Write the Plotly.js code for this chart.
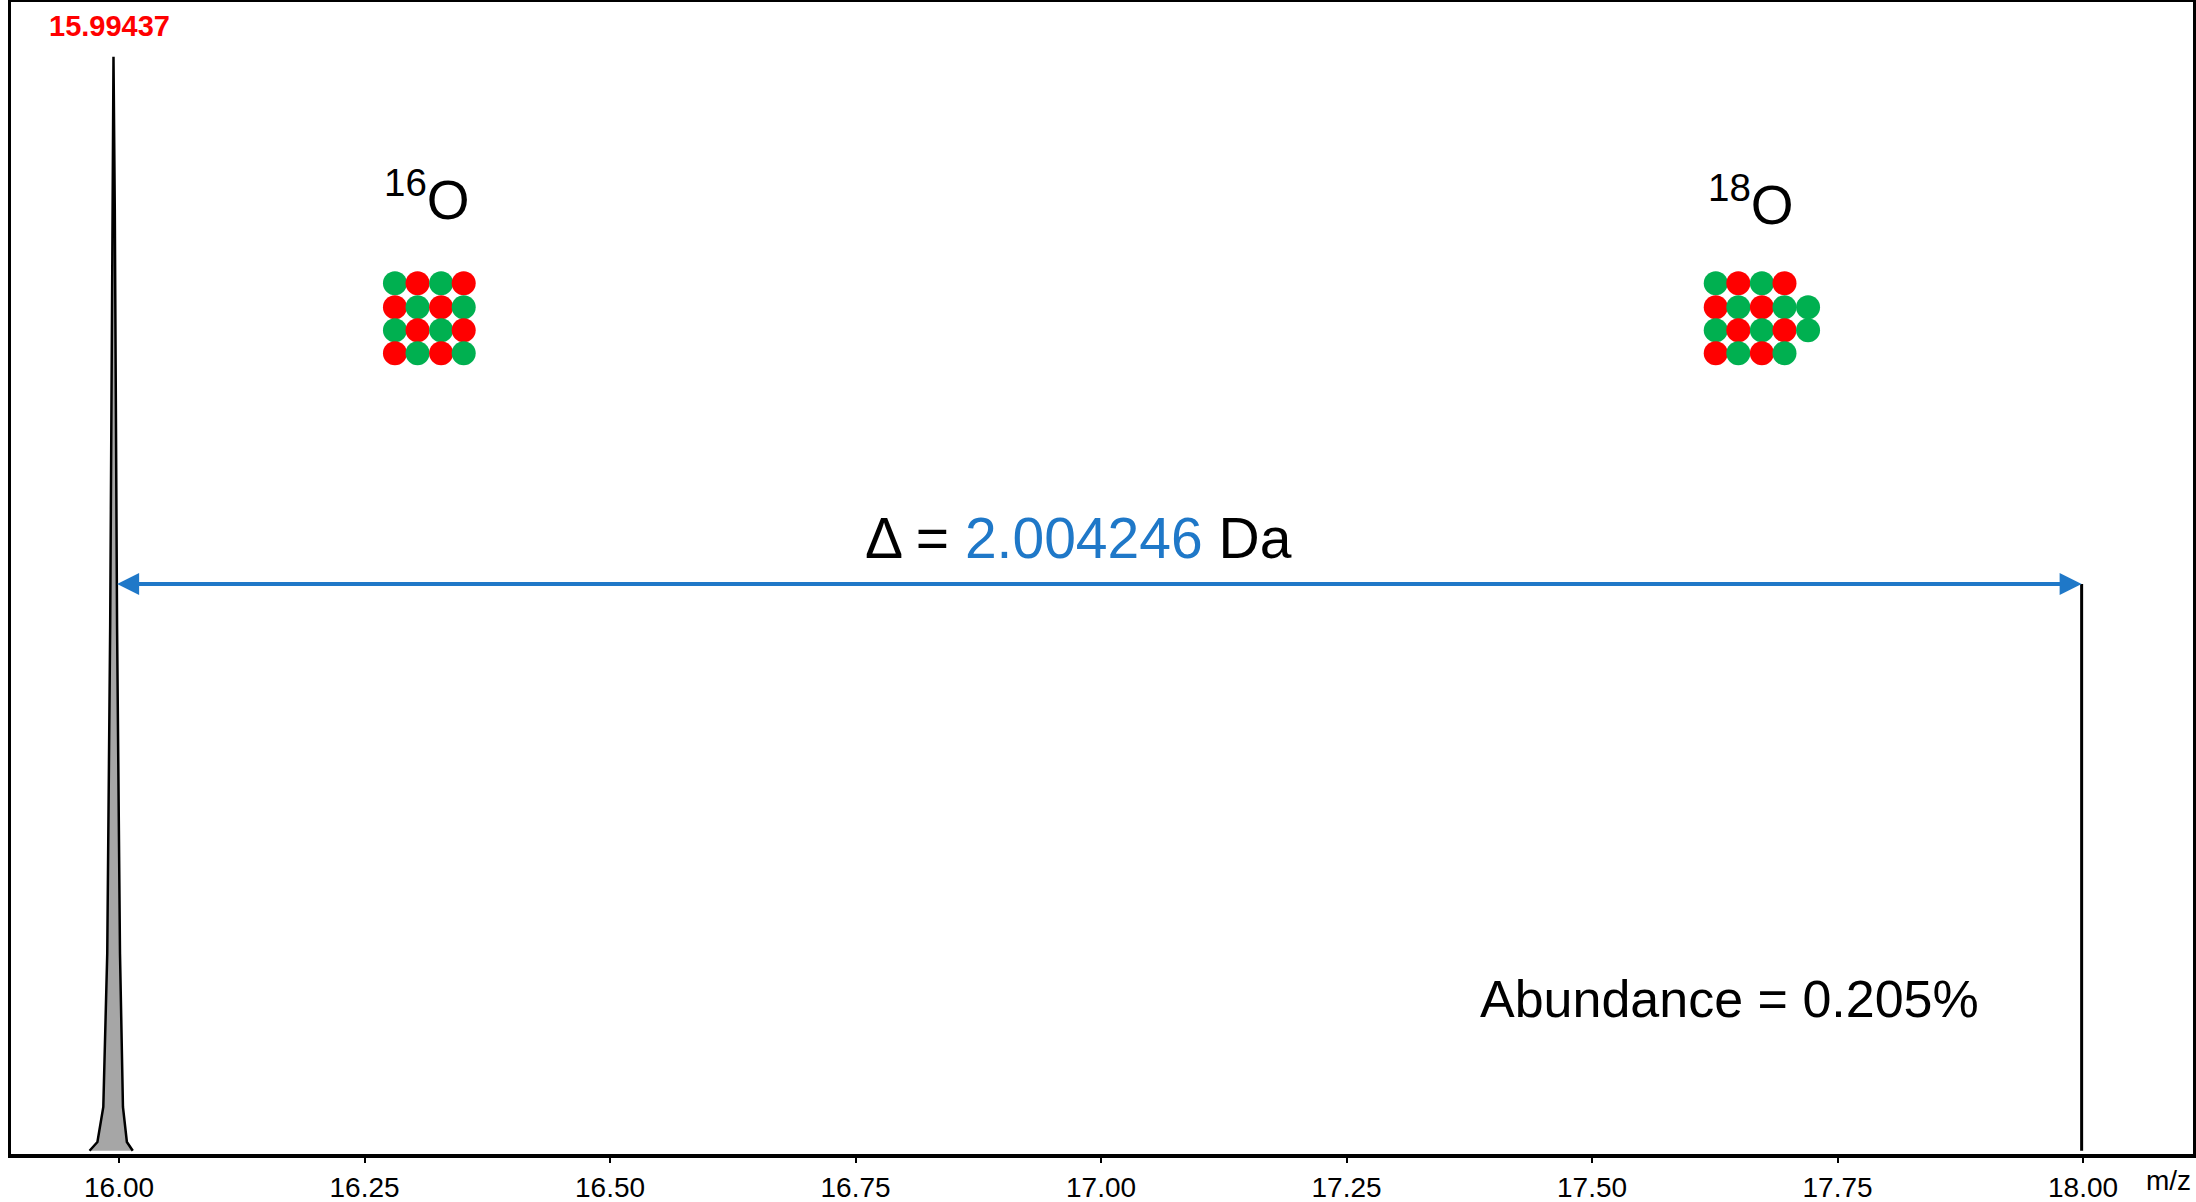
<!DOCTYPE html>
<html>
<head>
<meta charset="utf-8">
<script src="https://cdn.plot.ly/plotly-3.0.1.min.js"></script>
<style>html,body{margin:0;padding:0;background:#fff}#chart{width:2196px;height:1202px}</style>
</head>
<body>
<div id="chart"></div>
<script>
// 16O peak profile (m/z vs relative intensity)
const peakMz = [15.970, 15.978, 15.984, 15.988, 15.991, 15.9930, 15.99437, 15.9957, 15.998, 16.001, 16.004, 16.008, 16.014]
const peakInt = [0, 0.8, 4, 18, 48, 86, 100, 86, 48, 18, 4, 0.8, 0]

// 18O line
const o18Mz = 17.9986
const o18Height = 51.8

// dot grids: x/y grid positions and colours
const gridCols16 = [16.281, 16.304, 16.328, 16.351]
const gridCols18 = [17.626, 17.649, 17.673, 17.696, 17.720]
const gridRows = [79.3, 77.1, 75.0, 72.9]
const pattern16 = ['GRGR', 'RGRG', 'GRGR', 'RGRG']
const pattern18 = ['GRGR', 'RGRGG', 'GRGRG', 'RGRG']

const tickVals = [16.0, 16.25, 16.5, 16.75, 17.0, 17.25, 17.5, 17.75, 18.0]
const tickText = ['16.00', '16.25', '16.50', '16.75', '17.00', '17.25', '17.50', '17.75', '18.00']

const RED = '#ff0000'
const GREEN = '#00b050'
const BLUE = '#1f78c8'

function dots (cols, pattern) {
  let x = []
  let y = []
  let c = []
  pattern.forEach((row, r) => {
    for (let i = 0; i < row.length; i++) {
      x.push(cols[i])
      y.push(gridRows[r])
      c.push(row[i] === 'G' ? GREEN : RED)
    }
  })
  return {
    x: x, y: y, mode: 'markers', type: 'scatter', hoverinfo: 'skip',
    marker: { color: c, size: 24, line: { width: 0 } }
  }
}

const traces = [
  {
    x: peakMz, y: peakInt, mode: 'lines', type: 'scatter', fill: 'tozeroy',
    fillcolor: '#a6a6a6', line: { color: '#000', width: 2.5 }
  },
  {
    x: [o18Mz, o18Mz], y: [0, o18Height], mode: 'lines', type: 'scatter',
    line: { color: '#000', width: 3 }
  },
  dots(gridCols16, pattern16),
  dots(gridCols18, pattern18)
]

const font = 'Liberation Sans, Arial, sans-serif'
const narrow = 'Liberation Sans Narrow, Liberation Sans, Arial'

const layout = {
  width: 2196,
  height: 1202,
  margin: { l: 11, r: 3, t: 2, b: 48 },
  showlegend: false,
  paper_bgcolor: '#fff',
  plot_bgcolor: '#fff',
  xaxis: {
    range: [15.89, 18.112], tickvals: tickVals, ticktext: tickText,
    ticks: 'outside', ticklen: 5, tickwidth: 2, tickcolor: '#000',
    showgrid: false, zeroline: false, showline: true, linecolor: '#000', linewidth: 4, mirror: true,
    tickfont: { family: narrow, size: 28, color: '#000' }
  },
  yaxis: {
    range: [-0.3, 105], showticklabels: false, ticks: '', showgrid: false,
    zeroline: false, showline: true, linecolor: '#000', linewidth: 3, mirror: true
  },
  annotations: [
    { x: 15.99, y: 102.8, text: '<b>15.99437</b>', showarrow: false, font: { family: font, size: 29, color: RED } },
    { x: 16.314, y: 87.3, text: '<sup>16</sup>O', showarrow: false, font: { family: font, size: 55, color: '#000' } },
    { x: 17.662, y: 86.8, text: '<sup>18</sup>O', showarrow: false, font: { family: font, size: 55, color: '#000' } },
    { x: 16.977, y: 56.0, text: '\u0394 = <span style="color:' + BLUE + '">2.004246</span> Da', showarrow: false, font: { family: font, size: 57, color: '#000' } },
    { x: 17.64, y: 13.9, text: 'Abundance = 0.205%', showarrow: false, font: { family: font, size: 52, color: '#000' } },
    {
      x: o18Mz, y: o18Height, ax: 15.995, ay: o18Height, axref: 'x', ayref: 'y', xref: 'x', yref: 'y',
      text: ' ', showarrow: true, arrowhead: 2, startarrowhead: 2, arrowside: 'end+start',
      arrowsize: 1.1, arrowwidth: 4, arrowcolor: BLUE
    },
    { x: 1, y: 0, xref: 'paper', yref: 'paper', xanchor: 'right', yanchor: 'top', yshift: -9, text: 'm/z', showarrow: false,
      font: { family: narrow, size: 28, color: '#000' } }
  ]
}

Plotly.newPlot('chart', traces, layout, { displayModeBar: false, staticPlot: true })
</script>
</body>
</html>
